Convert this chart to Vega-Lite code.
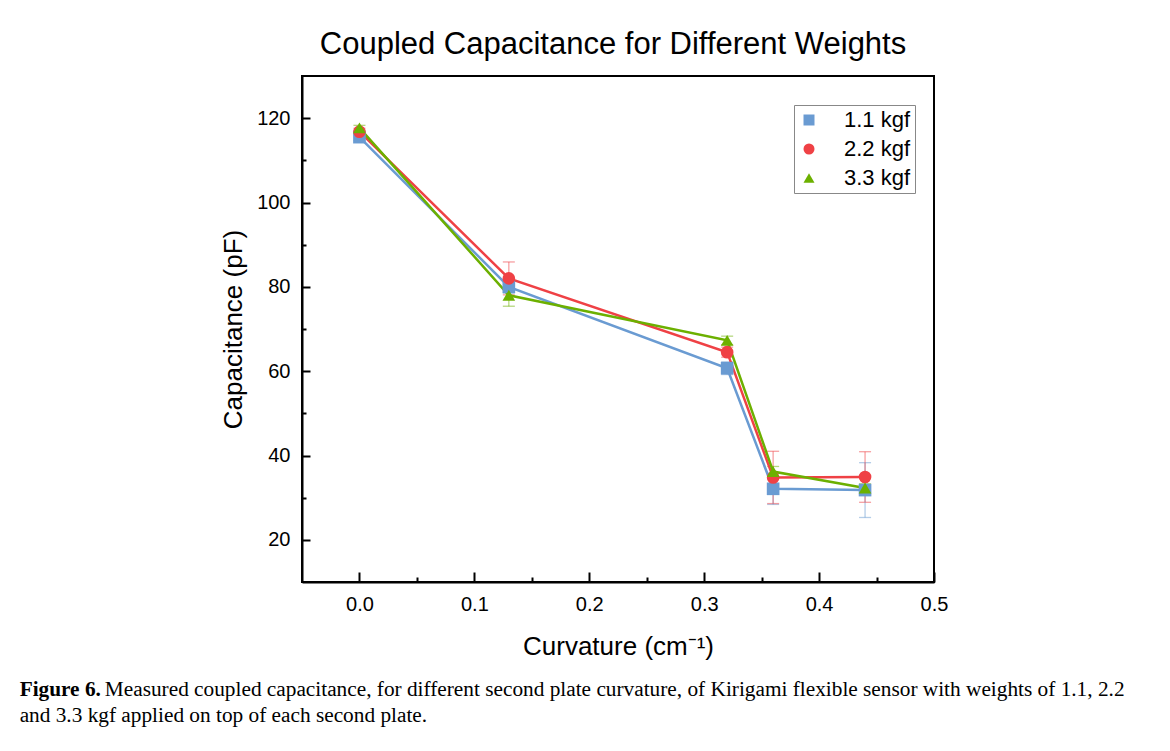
{
  "$schema": "https://vega.github.io/schema/vega-lite/v6.json",
  "background": "white",
  "padding": {"left": 19, "top": 28, "right": 5, "bottom": 5},
  "config": {
    "font": "Liberation Sans",
    "view": {"stroke": "black", "strokeWidth": 2},
    "axis": {
      "domainColor": "black", "domainWidth": 2, "tickColor": "black", "tickWidth": 2,
      "labelFontSize": 20, "labelColor": "black", "labelFont": "Liberation Sans",
      "titleFontSize": 26, "titleFontWeight": "normal", "titleColor": "black", "titleFont": "Liberation Sans",
      "grid": false, "labelFlush": false
    }
  },
  "title": {
    "text": "Figure 6.",
    "subtitle": ["\u200b\u2003\u2003\u2003\u2003Measured coupled capacitance, for different second plate curvature, of Kirigami flexible sensor with weights of 1.1, 2.2", "and 3.3 kgf applied on top of each second plate."],
    "orient": "bottom", "anchor": "start", "frame": "bounds",
    "font": "Liberation Serif", "fontSize": 21.3, "fontWeight": "bold", "color": "black",
    "subtitleFont": "Liberation Serif", "subtitleFontSize": 21.3, "subtitleColor": "black", "subtitleFontWeight": "normal",
    "subtitlePadding": -21.3, "subtitleLineHeight": 26, "offset": 19, "dx": -200
  },
  "datasets": {
    "pts": [
      {"weight": "1.1 kgf", "curvature": 0.0, "cap": 115.5, "err": 0.8},
      {"weight": "1.1 kgf", "curvature": 0.13, "cap": 80.0, "err": 1.5},
      {"weight": "1.1 kgf", "curvature": 0.32, "cap": 60.7, "err": 1.5},
      {"weight": "1.1 kgf", "curvature": 0.36, "cap": 32.1, "err": 3.7},
      {"weight": "1.1 kgf", "curvature": 0.44, "cap": 31.8, "err": 6.5},
      {"weight": "2.2 kgf", "curvature": 0.0, "cap": 116.8, "err": 0.8},
      {"weight": "2.2 kgf", "curvature": 0.13, "cap": 82.0, "err": 3.9},
      {"weight": "2.2 kgf", "curvature": 0.32, "cap": 64.5, "err": 1.2},
      {"weight": "2.2 kgf", "curvature": 0.36, "cap": 34.8, "err": 6.2},
      {"weight": "2.2 kgf", "curvature": 0.44, "cap": 34.9, "err": 6.0},
      {"weight": "3.3 kgf", "curvature": 0.0, "cap": 117.7, "err": 0.6},
      {"weight": "3.3 kgf", "curvature": 0.13, "cap": 78.0, "err": 2.6},
      {"weight": "3.3 kgf", "curvature": 0.32, "cap": 67.3, "err": 1.0},
      {"weight": "3.3 kgf", "curvature": 0.36, "cap": 36.2, "err": 1.2},
      {"weight": "3.3 kgf", "curvature": 0.44, "cap": 32.3, "err": 1.0}
    ]
  },
  "vconcat": [
    {
      "width": 632,
      "height": 506,
      "title": {"text": "Coupled Capacitance for Different Weights", "fontSize": 31, "fontWeight": "normal", "font": "Liberation Sans", "color": "black", "anchor": "middle", "offset": 15, "dx": -5},
      "data": {"name": "pts"},
      "layer": [
        {
          "mark": {"type": "errorbar", "ticks": {"size": 12}, "thickness": 1.3, "opacity": 0.5},
          "encoding": {
            "x": {"field": "curvature", "type": "quantitative", "title": "Curvature (cm\u207b\u00b9)",
              "scale": {"domain": [-0.05, 0.5], "nice": false, "zero": false},
              "axis": {
                "values": [0, 0.05, 0.1, 0.15, 0.2, 0.25, 0.3, 0.35, 0.4, 0.45, 0.5],
                "labelExpr": "abs(datum.value*10 - round(datum.value*10)) < 0.001 ? format(datum.value, '.1f') : ''",
                "tickSize": {"condition": {"test": "abs(datum.value*10 - round(datum.value*10)) > 0.001", "value": -5}, "value": -10},
                "labelPadding": 22, "titlePadding": 19
              }
            },
            "y": {"field": "cap", "type": "quantitative", "title": "Capacitance (pF)",
              "scale": {"domain": [10, 130], "nice": false, "zero": false},
              "axis": {
                "values": [20, 30, 40, 50, 60, 70, 80, 90, 100, 110, 120],
                "labelExpr": "datum.value % 20 == 0 ? datum.value : ''",
                "tickSize": {"condition": {"test": "datum.value % 20 != 0", "value": -4}, "value": -8},
                "labelPadding": 20, "titlePadding": 10
              }
            },
            "yError": {"field": "err"},
            "color": {"field": "weight", "type": "nominal", "scale": {"range": ["#6A9BD2", "#EF4145", "#6CB000"]}, "legend": null}
          }
        },
        {
          "mark": {"type": "line", "strokeWidth": 2.5},
          "encoding": {
            "x": {"field": "curvature", "type": "quantitative"},
            "y": {"field": "cap", "type": "quantitative"},
            "stroke": {"field": "weight", "type": "nominal",
              "scale": {"domain": ["1.1 kgf", "2.2 kgf", "3.3 kgf"], "range": ["#6A9BD2", "#EF4145", "#6CB000"]},
              "legend": null}
          }
        },
        {
          "mark": {"type": "point", "filled": true, "opacity": 1, "size": 160},
          "encoding": {
            "x": {"field": "curvature", "type": "quantitative"},
            "y": {"field": "cap", "type": "quantitative"},
            "fill": {"field": "weight", "type": "nominal", "scale": {"range": ["#6A9BD2", "#EF4145", "#6CB000"]},
              "legend": {"orient": "none", "legendX": 492, "legendY": 29, "title": null, "symbolSize": 121,
                "labelFontSize": 22, "labelFont": "Liberation Sans", "labelColor": "black", "strokeColor": "#888888",
                "padding": 4, "rowPadding": 7, "labelOffset": 24}},
            "shape": {"field": "weight", "type": "nominal", "scale": {"range": ["square", "circle", "triangle-up"]},
              "legend": {"orient": "none", "legendX": 492, "legendY": 29, "title": null, "symbolSize": 121,
                "labelFontSize": 22, "labelFont": "Liberation Sans", "labelColor": "black", "strokeColor": "#888888",
                "padding": 4, "rowPadding": 7, "labelOffset": 24}}
          }
        }
      ]
    }
  ]
}
